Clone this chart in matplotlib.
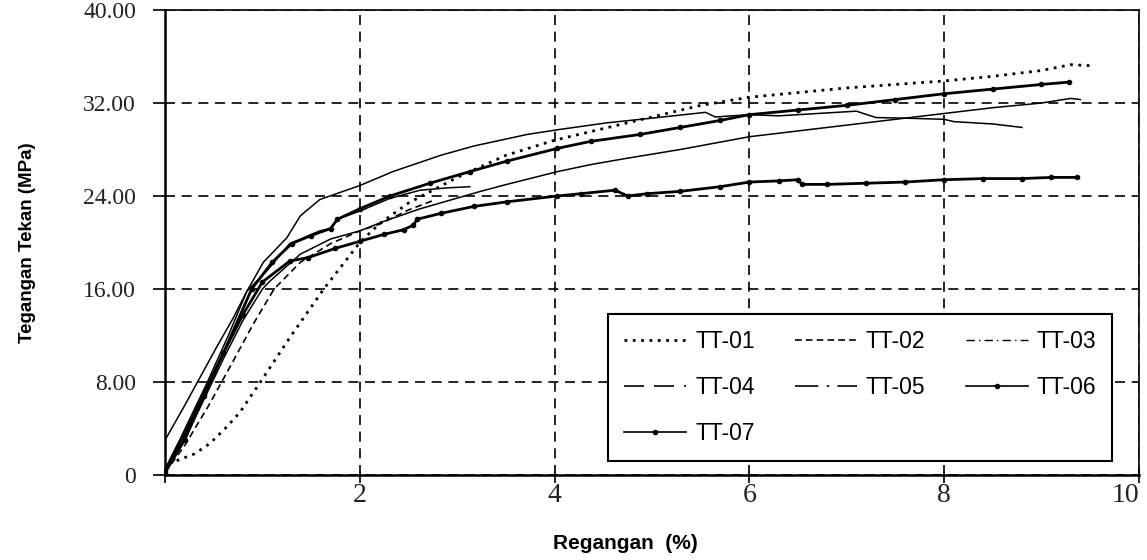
"""
Kurva tegangan tekan - regangan benda uji TT-01 s/d TT-07.
"""

import matplotlib
matplotlib.use('Agg')
import matplotlib.pyplot as plt
from matplotlib.lines import Line2D

# Regangan (%) dan tegangan tekan (MPa)
tt01_x = [0, 0.05, 0.3, 0.46, 0.63, 0.77, 0.98, 1.28, 1.63, 2.0, 2.2, 2.5, 3.0,
          3.5, 4.0, 4.5, 5.0, 5.5, 6.0, 6.5, 7.0, 7.5, 8.0, 8.5, 9.0, 9.3, 9.55]
tt01_y = [0.3, 1.0, 1.8, 2.7, 4.1, 5.4, 8.0, 11.8, 16.0, 20.0, 21.6, 23.4, 25.6,
          27.5, 28.8, 29.8, 30.8, 31.8, 32.5, 32.9, 33.3, 33.6, 33.9, 34.3, 34.8, 35.3, 35.2]

tt02_x = [0, 0.2, 0.45, 0.7, 0.9, 1.12, 1.39, 1.7, 2.0, 2.21, 2.5, 2.75]
tt02_y = [0.2, 2.5, 6.0, 9.8, 12.9, 16.0, 18.3, 19.9, 21.0, 21.6, 22.8, 23.6]

tt03_x = [0, 0.2, 0.4, 0.6, 0.8, 1.0, 1.08, 1.39, 1.7, 2.0, 2.24, 2.62, 3.24, 3.51,
          4.03, 4.37, 4.71, 5.29, 6.0, 6.5, 7.0, 7.5, 8.0, 8.5, 9.0, 9.3, 9.4]
tt03_y = [0.3, 3.0, 6.5, 10.0, 13.3, 16.0, 16.7, 19.0, 20.3, 21.0, 21.8, 22.9, 24.4, 25.0,
          26.1, 26.7, 27.2, 28.0, 29.1, 29.6, 30.1, 30.6, 31.1, 31.6, 32.0, 32.4, 32.3]

tt04_x = [0, 0.19, 0.36, 0.53, 0.70, 0.84, 1.01, 1.25, 1.39, 1.59, 2.0, 2.34, 2.83,
          3.17, 3.72, 4.03, 4.54, 5.0, 5.55, 5.65, 6.0, 6.3, 6.7, 7.1, 7.3, 7.6,
          8.0, 8.1, 8.5, 8.8]
tt04_y = [3.0, 5.8, 8.4, 11.0, 13.5, 15.8, 18.3, 20.4, 22.3, 23.7, 24.9, 26.1, 27.5,
          28.3, 29.3, 29.7, 30.3, 30.7, 31.2, 30.8, 31.0, 30.9, 31.1, 31.3, 30.75, 30.7,
          30.6, 30.4, 30.2, 29.9]

tt05_x = [0, 0.15, 0.43, 0.65, 0.84, 1.05, 1.28, 1.59, 1.7, 1.77, 2.0, 2.31, 2.62, 2.9, 3.13]
tt05_y = [0.5, 3.0, 7.9, 12.0, 15.8, 17.6, 19.9, 21.0, 21.2, 22.0, 22.7, 23.8, 24.5, 24.7, 24.8]

tt06_x = [0, 0.2, 0.4, 0.6, 0.89, 1.1, 1.3, 1.5, 1.7, 1.77, 2.0, 2.31, 2.72, 3.13,
          3.51, 4.03, 4.37, 4.88, 5.29, 5.7, 6.0, 6.5, 7.0, 7.5, 8.0, 8.5, 9.0, 9.28]
tt06_y = [0.3, 3.5, 7.0, 10.5, 16.0, 18.3, 19.9, 20.6, 21.2, 22.0, 22.9, 24.0, 25.1, 26.1,
          27.0, 28.1, 28.7, 29.3, 29.9, 30.5, 31.0, 31.4, 31.8, 32.3, 32.8, 33.2, 33.6, 33.8]

tt07_x = [0, 0.2, 0.4, 0.6, 0.8, 1.0, 1.28, 1.47, 1.75, 2.0, 2.25, 2.45, 2.55, 2.59,
          2.83, 3.17, 3.51, 4.03, 4.27, 4.62, 4.75, 4.95, 5.29, 5.7, 6.0, 6.3, 6.5,
          6.54, 6.8, 7.2, 7.6, 8.0, 8.4, 8.8, 9.1, 9.36]
tt07_y = [0.2, 3.0, 6.8, 10.5, 13.8, 16.6, 18.4, 18.7, 19.5, 20.1, 20.7, 21.1, 21.5, 22.0,
          22.5, 23.1, 23.5, 24.0, 24.2, 24.5, 24.0, 24.2, 24.4, 24.8, 25.2, 25.3, 25.4,
          25.0, 25.0, 25.1, 25.2, 25.4, 25.5, 25.5, 25.6, 25.6]

labels = ['TT-01', 'TT-02', 'TT-03', 'TT-04', 'TT-05', 'TT-06', 'TT-07']
x_ticks = [0, 2, 4, 6, 8, 10]
x_ticklabels = ['', '2', '4', '6', '8', '10']
y_ticks = [0, 8, 16, 24, 32, 40]
y_ticklabels = ['0', '8.00', '16.00', '24.00', '32.00', '40.00']

fig = plt.figure(figsize=(11.47, 5.6), dpi=100)
ax = fig.add_axes([0.1439, 0.152, 0.849, 0.830])

ax.plot(tt01_x, tt01_y, color='black', lw=2.0, linestyle=(0, (1, 2)))
ax.plot(tt02_x, tt02_y, color='black', lw=1.2, linestyle=(0, (4, 2.5)))
ax.plot(tt03_x, tt03_y, color='black', lw=1.1)
ax.plot(tt04_x, tt04_y, color='black', lw=1.1)
ax.plot(tt05_x, tt05_y, color='black', lw=1.1)
ax.plot(tt06_x, tt06_y, color='black', lw=2.0, marker='o', markersize=3)
ax.plot(tt07_x, tt07_y, color='black', lw=2.0, marker='o', markersize=3)

ax.set_xlim(0, 10)
ax.set_ylim(0, 40)
ax.set_xticks(x_ticks)
ax.set_xticklabels(x_ticklabels)
ax.set_yticks(y_ticks)
ax.set_yticklabels(y_ticklabels)
for lab in ax.get_xticklabels():
    lab.set_fontfamily('Liberation Serif')
    lab.set_fontsize(20)
ax.get_xticklabels()[-1].set_horizontalalignment('right')
for lab in ax.get_yticklabels():
    lab.set_fontfamily('Liberation Serif')
    lab.set_fontsize(17)
ax.tick_params(axis='x', direction='inout', length=12, width=1.4, pad=0, colors='#222222')
ax.tick_params(axis='y', direction='out', length=9, width=1.4, pad=12, colors='#222222')

ax.grid(True, color='black', lw=1.2, linestyle=(0, (6, 4)))

for side in ['left', 'bottom']:
    ax.spines[side].set_linewidth(1.8)
for side in ['top', 'right']:
    ax.spines[side].set_linewidth(1.2)

ax.set_xlabel('Regangan  (%)', fontfamily='Liberation Sans', fontsize=15,
              fontweight='bold')
ax.xaxis.set_label_coords(0.473, -0.128)
ax.set_ylabel('Tegangan Tekan (MPa)', fontfamily='Liberation Sans', fontsize=13.5,
              fontweight='bold')
ax.yaxis.set_label_coords(-0.133, 0.50)

styles = [
    dict(lw=2.0, linestyle=(0, (1, 2))),
    dict(lw=1.2, linestyle=(0, (4, 2.5))),
    dict(lw=1.0, linestyle=(0, (6, 3, 1, 3))),
    dict(lw=1.2, linestyle=(0, (12, 6))),
    dict(lw=1.2, linestyle=(0, (14, 5, 1.5, 5))),
    dict(lw=1.2, marker='o', markersize=3),
    dict(lw=1.2, marker='o', markersize=3),
]
handles = [Line2D([], [], color='black', **s) for s in styles]
# legend fills column by column: reorder so that rows read TT-01, TT-02, TT-03 ...
order = [0, 3, 6, 1, 4, 2, 5]
leg = ax.legend([handles[i] for i in order], [labels[i] for i in order],
                ncol=3, loc='upper left',
                bbox_to_anchor=(0.455, 0.346), borderaxespad=0,
                prop={'family': 'Liberation Sans', 'size': 16.5},
                handlelength=2.7, handletextpad=0.4, columnspacing=1.75,
                labelspacing=1.0, borderpad=0.7, numpoints=1,
                fancybox=False, framealpha=1, edgecolor='black')
leg.get_frame().set_linewidth(1.5)

fig.savefig('out.png', dpi=100)
